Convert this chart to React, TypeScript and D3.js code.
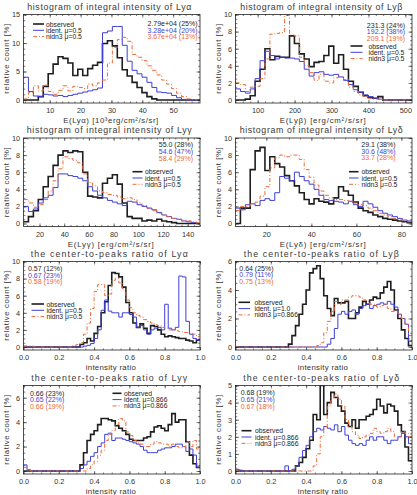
import * as d3 from "d3";
import { useEffect, useRef } from "react";

const WIDTH = 417;
const HEIGHT = 495;
const FONT = "'Liberation Sans', Arial, sans-serif";
const INK = "#222";

// observed / ident. / nidn3
const COLORS = ["#1e1e1e", "#3f3fd6", "#ec6a38"];
const WIDTHS = [1.6, 1, 1];
const DASHES = [null, null, "4,2,1,2"];

// ---- integral intensity histograms: [first edge, bin width], 36 bins ----
const intLyaBin = [1.5, 1.6];
const intLyaObs = [0, 0, 0, 0.6, 2.4, 4.6, 6.3, 7.6, 7.3, 6.5, 4.3, 5.4, 4.3, 5.5, 6.1, 6.6, 9.9, 10.4, 9.5, 7.4, 5.3, 4.2, 3.1, 2.2, 1.3, 0.6, 0.2, 0, 0, 0, 0, 0, 0, 0, 0, 0];
const intLyaIdent = [4.0, 1.5, 0.7, 0.6, 1.0, 0.9, 0.7, 0.8, 0.6, 0.8, 1.0, 1.2, 1.4, 1.6, 1.8, 2.1, 11.8, 12.1, 12.9, 12.9, 9.6, 6.8, 5.2, 4.6, 4.0, 3.1, 2.2, 1.4, 1.3, 1.2, 0.8, 0.4, 0.1, 0, 0, 0];
const intLyaNidn3 = [0.2, 1.3, 2.5, 1.6, 2.6, 1.5, 1.0, 1.7, 2.5, 1.6, 2.4, 2.2, 2.0, 2.8, 2.5, 3.0, 3.5, 6.5, 9.2, 10.6, 11.0, 10.3, 8.0, 7.5, 6.9, 6.0, 5.2, 4.4, 3.5, 2.8, 2.0, 1.2, 0.6, 0.2, 0.1, 0];

const intLybBin = [40, 13.3];
const intLybObs = [0, 0, 0.1, 0.5, 2.2, 3.6, 6.0, 4.7, 5.1, 5.0, 5.0, 7.5, 6.6, 5.4, 4.8, 3.9, 4.4, 4.5, 5.2, 6.3, 4.3, 5.3, 3.6, 2.2, 1.6, 0.9, 0.5, 0.3, 0.2, 0.4, 0, 0, 0, 0, 0, 0];
const intLybIdent = [1.3, 1.0, 0.8, 1.3, 2.5, 4.6, 5.7, 5.2, 4.8, 5.0, 4.9, 4.9, 4.8, 4.5, 3.6, 2.8, 3.2, 3.3, 3.0, 2.9, 3.0, 2.7, 2.3, 1.8, 1.2, 0.9, 0.6, 0.4, 0.2, 0.1, 0, 0, 0, 0, 0, 0];
const intLybNidn3 = [2.0, 1.8, 1.0, 1.5, 1.6, 2.5, 4.8, 7.7, 7.8, 7.9, 9.9, 7.6, 7.5, 5.0, 4.0, 3.2, 2.3, 3.0, 2.2, 2.0, 2.6, 2.7, 2.4, 1.5, 1.0, 0.6, 0.4, 0.2, 0.1, 0.1, 0, 0, 0, 0, 0, 0];

const intLygBin = [7, 4];
const intLygObs = [0.2, 0.8, 1.5, 2.8, 4.3, 5.5, 6.8, 8.0, 8.5, 8.3, 8.5, 8.4, 6.0, 3.2, 3.1, 3.0, 4.7, 5.3, 5.7, 4.6, 2.4, 0.8, 0.6, 0.6, 0.3, 0.4, 0.3, 0.5, 0.3, 0.2, 0.1, 0, 0, 0, 0, 0];
const intLygIdent = [2.0, 1.4, 1.7, 2.4, 3.0, 3.3, 4.2, 5.8, 5.8, 5.6, 5.5, 5.3, 5.0, 4.3, 3.8, 3.3, 3.0, 2.7, 2.5, 2.3, 2.1, 2.6, 2.5, 2.2, 2.0, 1.8, 1.6, 1.3, 1.0, 0.8, 0.6, 0.5, 0.3, 0.2, 0.1, 0];
const intLygNidn3 = [2.8, 2.4, 1.9, 2.2, 2.8, 3.8, 5.0, 6.4, 7.8, 7.6, 7.4, 7.1, 5.8, 4.8, 4.4, 3.8, 3.6, 3.4, 3.3, 3.1, 2.9, 3.0, 2.8, 2.4, 2.1, 1.8, 1.5, 1.2, 1.0, 0.8, 0.6, 0.5, 0.4, 0.3, 0.2, 0.1];

const intLydBin = [6.3, 2.18];
const intLydObs = [0, 1.8, 1.8, 6.3, 8.5, 8.9, 6.2, 7.8, 7.0, 6.6, 5.6, 5.0, 4.4, 3.6, 2.8, 2.3, 2.9, 2.6, 2.5, 2.3, 3.0, 4.3, 3.8, 3.3, 2.5, 1.8, 1.5, 1.3, 1.0, 0.8, 0.6, 0.5, 0.4, 0.3, 0.2, 0.1];
const intLydIdent = [1.8, 1.6, 2.2, 2.3, 2.1, 2.7, 2.9, 2.7, 3.6, 5.5, 5.3, 5.0, 6.0, 5.5, 5.0, 4.6, 4.0, 3.3, 2.8, 2.7, 2.6, 2.5, 2.3, 2.6, 2.2, 2.0, 2.6, 2.3, 1.9, 1.5, 1.2, 1.0, 0.8, 0.6, 0.4, 0.3];
const intLydNidn3 = [1.5, 2.0, 2.0, 2.3, 2.5, 3.2, 4.3, 6.5, 7.7, 8.0, 7.8, 8.0, 8.0, 7.5, 6.3, 5.4, 4.5, 3.8, 3.3, 3.0, 2.8, 2.8, 2.7, 2.6, 2.4, 2.2, 2.1, 1.8, 1.5, 1.2, 1.0, 0.8, 0.6, 0.5, 0.3, 0.2];

// ---- center-to-peaks ratio histograms: 50 bins of 0.02 ----
const ratioBin = [0, 0.02];
const ratioLyaObs = [
  0, 0, 0, 0, 0, 0, 0, 0, 0, 0,
  0, 0, 0, 0, 0, 0, 0.3, 0.5, 1.0, 0.7,
  1.6, 2.4, 4.0, 5.3, 7.2, 8.7, 8.6, 8.2, 7.0, 5.2,
  4.0, 2.8, 2.3, 2.7, 2.2, 1.6, 2.5, 2.4, 2.0, 1.5,
  1.2, 1.3, 1.2, 1.1, 1.0, 1.0, 0.8, 0.7, 0.5, 0.8,
];
const ratioLyaIdent = [
  0.1, 0, 0, 0, 0, 0, 0, 0, 0, 0,
  0, 0, 0, 0, 0, 0, 0, 0.1, 0.2, 0.4,
  1.0, 2.0, 4.3, 5.5, 4.2, 4.0, 4.0, 3.5, 4.0, 4.0,
  3.8, 3.5, 2.3, 2.5, 2.0, 1.5, 2.0, 2.2, 2.3, 2.0,
  5.0, 2.2, 2.0, 2.3, 8.3, 8.2, 3.0, 1.5, 1.0, 0.8,
];
const ratioLyaNidn3 = [
  0.1, 0.1, 0.1, 0, 0, 0, 0, 0, 0, 0,
  0, 0, 0, 0, 0.2, 0.3, 0.5, 1.5, 2.8, 4.5,
  6.5, 7.3, 7.3, 6.0, 6.2, 7.8, 8.0, 7.5, 6.8, 5.5,
  4.6, 4.0, 3.7, 3.5, 3.2, 3.0, 2.8, 2.6, 2.5, 2.3,
  2.2, 2.0, 2.0, 1.9, 1.8, 1.7, 1.7, 1.6, 1.5, 1.2,
];

const ratioLybObs = [
  0, 0, 0, 0, 0, 0, 0, 0, 0, 0,
  0, 0, 0, 0, 0, 0.2, 0.8, 1.5, 2.3, 3.0,
  4.0, 5.2, 5.5, 5.7, 4.8, 3.6, 2.7, 2.2, 3.4, 3.1,
  3.1, 3.2, 2.0, 2.0, 2.4, 2.8, 3.2, 3.0, 3.3, 3.5,
  3.4, 3.8, 4.2, 4.6, 4.0, 2.6, 2.0, 1.2, 0.6, 0.1,
];
const ratioLybIdent = [
  0, 0, 0, 0, 0, 0, 0, 0, 0, 0,
  0, 0, 0, 0, 0, 0, 0, 0, 0, 0,
  0, 0, 0, 0, 0, 0, 0.2, 0.6, 1.3, 2.3,
  2.5, 2.3, 2.5, 2.6, 2.3, 2.7, 2.9, 3.0, 2.7, 2.9,
  3.0, 3.1, 3.0, 3.2, 3.0, 2.8, 2.3, 2.0, 1.6, 0.4,
];
const ratioLybNidn3 = [
  0, 0, 0, 0, 0, 0, 0, 0, 0, 0,
  0, 0, 0, 0, 0, 0, 0, 0, 0, 0,
  0, 0, 0, 0.1, 0.3, 1.0, 1.8, 2.5, 3.2, 3.0,
  3.3, 3.3, 3.5, 3.6, 3.6, 3.5, 3.3, 3.2, 3.0, 3.0,
  2.8, 2.9, 3.0, 2.7, 2.5, 2.6, 2.3, 2.0, 1.6, 0.8,
];

const ratioLygObs = [
  0, 0, 0, 0, 0, 0, 0, 0, 0, 0,
  0, 0, 0, 0, 0, 0, 0.5, 1.5, 2.5, 3.0,
  3.3, 3.8, 4.3, 4.3, 4.2, 4.1, 3.7, 3.5, 3.3, 3.0,
  2.6, 2.5, 2.5, 2.5, 2.7, 2.8, 3.2, 3.6, 3.7, 3.5,
  3.3, 3.8, 4.7, 4.0, 4.2, 4.2, 2.4, 1.3, 0.6, 0.3,
];
const ratioLygIdent = [
  0.5, 0.1, 0, 0, 0, 0, 0, 0, 0, 0,
  0, 0, 0, 0, 0, 0, 0.2, 0.5, 0.8, 1.2,
  1.5, 2.0, 2.3, 3.0, 3.1, 2.5, 2.7, 2.7, 2.6, 2.5,
  2.4, 2.3, 2.2, 2.0, 1.7, 1.5, 1.5, 1.5, 1.7, 1.8,
  1.9, 1.9, 2.0, 2.2, 2.2, 2.0, 1.6, 1.8, 1.3, 0.3,
];
const ratioLygNidn3 = [
  0.3, 0.1, 0, 0, 0, 0, 0, 0, 0, 0,
  0, 0, 0, 0, 0, 0, 0, 0, 0.2, 0.5,
  0.8, 1.3, 1.7, 2.5, 3.0, 3.3, 3.8, 4.3, 4.1, 3.2,
  2.9, 2.5, 2.3, 2.2, 2.0, 2.0, 2.2, 2.4, 2.3, 2.2,
  2.2, 2.0, 2.2, 2.0, 1.9, 2.0, 2.4, 2.0, 2.5, 1.8,
];

const ratioLydObs = [
  0, 0, 0, 0, 0, 0, 0, 0, 0, 0,
  0, 0, 0, 0, 0, 0, 0, 0.3, 0.5, 0.8,
  1.3, 1.8, 3.3, 3.0, 5.0, 3.3, 4.0, 4.6, 4.3, 3.8,
  3.5, 2.8, 2.6, 3.0, 2.5, 3.0, 3.0, 3.2, 3.3, 3.6,
  4.2, 3.8, 3.4, 3.9, 3.8, 3.5, 2.7, 2.3, 1.4, 0.6,
];
const ratioLydIdent = [
  0.1, 0.05, 0, 0, 0, 0, 0, 0, 0, 0,
  0, 0, 0, 0, 0.3, 0, 0.1, 0.3, 0.8, 1.2,
  1.5, 2.0, 2.3, 2.5, 2.4, 2.6, 2.5, 2.4, 2.7, 2.3,
  2.6, 2.1, 1.8, 1.6, 1.5, 1.6, 1.5, 1.8, 2.0, 1.8,
  2.0, 2.0, 1.8, 1.6, 1.8, 1.8, 2.0, 2.2, 2.0, 1.6,
];
const ratioLydNidn3 = [
  0, 0, 0, 0, 0, 0, 0, 0, 0, 0,
  0, 0, 0, 0, 0, 0, 0, 0, 0, 0,
  0, 0, 0.3, 1.0, 2.0, 2.6, 3.8, 4.3, 4.5, 4.2,
  3.8, 3.0, 2.6, 2.3, 2.1, 1.9, 2.0, 2.1, 2.2, 2.5,
  2.3, 2.2, 2.3, 2.5, 2.3, 2.0, 2.0, 2.3, 2.2, 2.0,
];

// mean (spread) printed in each panel, observed / ident. / nidn3
const statsIntLya = ["2.79e+04 (25%)", "3.28e+04 (20%)", "3.67e+04 (13%)"];
const statsIntLyb = ["231.3 (24%)", "192.2 (38%)", "209.1 (19%)"];
const statsIntLyg = ["55.0 (28%)", "54.6 (47%)", "58.4 (29%)"];
const statsIntLyd = ["29.1 (38%)", "30.6 (48%)", "33.7 (28%)"];
const statsRatioLya = ["0.57 (12%)", "0.67 (23%)", "0.58 (19%)"];
const statsRatioLyb = ["0.64 (25%)", "0.79 (11%)", "0.75 (13%)"];
const statsRatioLyg = ["0.66 (23%)", "0.65 (22%)", "0.66 (19%)"];
const statsRatioLyd = ["0.68 (19%)", "0.65 (21%)", "0.67 (18%)"];

const legendMu05 = ["observed", "ident. μ=0.5", "nidn3 μ=0.5"];
const legendLyb = ["observed", "ident. μ=1.0", "nidn3 μ=0.866"];
const legendMu866 = ["observed", "ident. μ=0.866", "nidn3 μ=0.866"];

// plot boxes
const COL_X = [23.5, 235.5];
const ROW_Y = [14.5, 138, 261.5, 385.5];
const BOX_W = 176.5;
const BOX_H = 88.5;

interface Panel {
  col: number;
  row: number;
  title: string;
  titleLen: number;
  xTitle: string;
  xTitleLen: number;
  xDomain: [number, number];
  xMajor: number;
  xMinor: number;
  xFmt: (d: number) => string;
  yMax: number;
  yMajor: number;
  yMinor: number;
  bin: number[];
  series: number[][];
  stats: string[];
  statsAt: [number, number, string];
  legend: string[];
  legendAt: [number, number, number, number];
}

const fmtInt = d3.format("d");
const fmtRatio = d3.format(".1f");

const panels: Panel[] = [
  {
    col: 0, row: 0, title: "histogram of integral intensity of Lyα", titleLen: 164,
    xTitle: "E(Lyα) [10³erg/cm²/s/sr]", xTitleLen: 95,
    xDomain: [1.5, 58.7], xMajor: 10, xMinor: 2, xFmt: fmtInt,
    yMax: 15, yMajor: 5, yMinor: 1, bin: intLyaBin,
    series: [intLyaObs, intLyaIdent, intLyaNidn3],
    stats: statsIntLya, statsAt: [174, 8.8, "end"],
    legend: legendMu05, legendAt: [9.5, 20.5, 22.5, 9.5],
  },
  {
    col: 1, row: 0, title: "histogram of integral intensity of Lyβ", titleLen: 162,
    xTitle: "E(Lyβ) [erg/cm²/s/sr]", xTitleLen: 86,
    xDomain: [40, 518], xMajor: 100, xMinor: 20, xFmt: fmtInt,
    yMax: 10, yMajor: 2, yMinor: 0.5, bin: intLybBin,
    series: [intLybObs, intLybIdent, intLybNidn3],
    stats: statsIntLyb, statsAt: [169.5, 10.5, "end"],
    legend: legendMu05, legendAt: [115, 127, 133, 31.5],
  },
  {
    col: 0, row: 1, title: "histogram of integral intensity of Lyγ", titleLen: 165,
    xTitle: "E(Lyγ) [erg/cm²/s/sr]", xTitleLen: 86,
    xDomain: [7, 150], xMajor: 20, xMinor: 5, xFmt: fmtInt,
    yMax: 10, yMajor: 2, yMinor: 0.5, bin: intLygBin,
    series: [intLygObs, intLygIdent, intLygNidn3],
    stats: statsIntLyg, statsAt: [169.5, 6.5, "end"],
    legend: legendMu05, legendAt: [109, 119, 121.5, 33.7],
  },
  {
    col: 1, row: 1, title: "histogram of integral intensity of Lyδ", titleLen: 163,
    xTitle: "E(Lyδ) [erg/cm²/s/sr]", xTitleLen: 86,
    xDomain: [6.3, 84.7], xMajor: 20, xMinor: 5, xFmt: fmtInt,
    yMax: 10, yMajor: 2, yMinor: 0.5, bin: intLydBin,
    series: [intLydObs, intLydIdent, intLydNidn3],
    stats: statsIntLyd, statsAt: [160, 6.2, "end"],
    legend: legendMu05, legendAt: [113.5, 123, 126, 33.7],
  },
  {
    col: 0, row: 2, title: "the center-to-peaks ratio of Lyα", titleLen: 157,
    xTitle: "intensity ratio", xTitleLen: 50,
    xDomain: [0, 1], xMajor: 0.2, xMinor: 0.05, xFmt: fmtRatio,
    yMax: 10, yMajor: 2, yMinor: 0.5, bin: ratioBin,
    series: [ratioLyaObs, ratioLyaIdent, ratioLyaNidn3],
    stats: statsRatioLya, statsAt: [4.5, 6.8, "start"],
    legend: legendMu05, legendAt: [8, 20.5, 23, 42.5],
  },
  {
    col: 1, row: 2, title: "the center-to-peaks ratio of Lyβ", titleLen: 155,
    xTitle: "intensity ratio", xTitleLen: 50,
    xDomain: [0, 1], xMajor: 0.2, xMinor: 0.05, xFmt: fmtRatio,
    yMax: 6, yMajor: 2, yMinor: 0.5, bin: ratioBin,
    series: [ratioLybObs, ratioLybIdent, ratioLybNidn3],
    stats: statsRatioLyb, statsAt: [3.8, 6.5, "start"],
    legend: legendLyb, legendAt: [3, 14.5, 19, 40.8],
  },
  {
    col: 0, row: 3, title: "the center-to-peaks ratio of Lyγ", titleLen: 156,
    xTitle: "intensity ratio", xTitleLen: 50,
    xDomain: [0, 1], xMajor: 0.2, xMinor: 0.05, xFmt: fmtRatio,
    yMax: 7, yMajor: 2, yMinor: 0.5, bin: ratioBin,
    series: [ratioLygObs, ratioLygIdent, ratioLygNidn3],
    stats: statsRatioLyg, statsAt: [6.5, 7.6, "start"],
    legend: legendMu866, legendAt: [89, 98, 100.5, 7.8],
  },
  {
    col: 1, row: 3, title: "the center-to-peaks ratio of Lyδ", titleLen: 156,
    xTitle: "intensity ratio", xTitleLen: 50,
    xDomain: [0, 1], xMajor: 0.2, xMinor: 0.05, xFmt: fmtRatio,
    yMax: 5, yMajor: 1, yMinor: 0.2, bin: ratioBin,
    series: [ratioLydObs, ratioLydIdent, ratioLydNidn3],
    stats: statsRatioLyd, statsAt: [5.2, 7.2, "start"],
    legend: legendMu866, legendAt: [6, 16, 19.5, 45.2],
  },
];

// tick positions that fall inside [d0, d1]
const ticksIn = (d0: number, d1: number, step: number) =>
  d3.range(Math.ceil(d0 / step - 1e-6), Math.floor(d1 / step + 1e-6) + 1).map((i) => i * step);

export default function App() {
  const ref = useRef<SVGSVGElement>(null);

  useEffect(() => {
    if (!ref.current) return;
    document.body.style.margin = "0";

    const svg = d3.select(ref.current);
    svg.selectAll("*").remove();
    svg.append("rect").attr("width", WIDTH).attr("height", HEIGHT).attr("fill", "#fff");
    const defs = svg.append("defs");

    const axisStyle = (sel: any) => {
      sel.attr("font-family", null).attr("font-size", null);
      sel.select(".domain").remove();
      sel.selectAll(".tick line").attr("stroke", INK).attr("stroke-width", 0.6);
      sel.selectAll(".tick text")
        .attr("fill", "#333")
        .attr("font-size", 7.3)
        .attr("font-family", FONT);
    };

    panels.forEach((p, k) => {
      const left = COL_X[p.col];
      const right = left + BOX_W;
      const top = ROW_Y[p.row];
      const bottom = top + BOX_H;

      const x = d3.scaleLinear().domain(p.xDomain).range([left, right]);
      const y = d3.scaleLinear().domain([-0.035 * p.yMax, p.yMax]).range([bottom, top]);

      const g = svg.append("g");
      const clipId = `clip-${k}`;
      defs.append("clipPath").attr("id", clipId)
        .append("rect")
        .attr("x", left).attr("y", top)
        .attr("width", BOX_W).attr("height", BOX_H);

      // histograms drawn as steps over each bin
      const line = d3.line<[number, number]>()
        .x((d) => x(d[0]))
        .y((d) => y(d[1]))
        .curve(d3.curveStepAfter);

      const plot = g.append("g").attr("clip-path", `url(#${clipId})`);
      p.series.forEach((vals, s) => {
        const pts: [number, number][] = vals.map((v, i) => [p.bin[0] + i * p.bin[1], v]);
        pts.push([p.bin[0] + vals.length * p.bin[1], vals[vals.length - 1]]);
        const path = plot.append("path")
          .attr("d", line(pts))
          .attr("fill", "none")
          .attr("stroke", COLORS[s])
          .attr("stroke-width", WIDTHS[s])
          .attr("stroke-linejoin", "miter");
        if (DASHES[s]) path.attr("stroke-dasharray", DASHES[s]);
      });

      // axes: ticks on all four sides, pointing inward
      const xMaj = ticksIn(p.xDomain[0], p.xDomain[1], p.xMajor);
      const xMin = ticksIn(p.xDomain[0], p.xDomain[1], p.xMinor);
      const yMaj = ticksIn(0, p.yMax, p.yMajor);
      const yMin = ticksIn(0, p.yMax, p.yMinor);
      const blank = () => "";

      g.append("g").attr("transform", `translate(0,${bottom})`)
        .call(d3.axisBottom(x).tickValues(xMaj).tickSize(-3).tickPadding(5)
          .tickFormat((d) => p.xFmt(+d)))
        .call(axisStyle);
      g.append("g").attr("transform", `translate(0,${bottom})`)
        .call(d3.axisBottom(x).tickValues(xMin).tickSize(-1.5).tickFormat(blank))
        .call(axisStyle);
      g.append("g").attr("transform", `translate(0,${top})`)
        .call(d3.axisTop(x).tickValues(xMaj).tickSize(-3).tickFormat(blank))
        .call(axisStyle);
      g.append("g").attr("transform", `translate(0,${top})`)
        .call(d3.axisTop(x).tickValues(xMin).tickSize(-1.5).tickFormat(blank))
        .call(axisStyle);

      g.append("g").attr("transform", `translate(${left},0)`)
        .call(d3.axisLeft(y).tickValues(yMaj).tickSize(-3.5).tickPadding(3.5)
          .tickFormat((d) => fmtInt(+d)))
        .call(axisStyle);
      g.append("g").attr("transform", `translate(${left},0)`)
        .call(d3.axisLeft(y).tickValues(yMin).tickSize(-1.8).tickFormat(blank))
        .call(axisStyle);
      g.append("g").attr("transform", `translate(${right},0)`)
        .call(d3.axisRight(y).tickValues(yMaj).tickSize(-3.5).tickFormat(blank))
        .call(axisStyle);
      g.append("g").attr("transform", `translate(${right},0)`)
        .call(d3.axisRight(y).tickValues(yMin).tickSize(-1.8).tickFormat(blank))
        .call(axisStyle);

      g.append("rect")
        .attr("x", left).attr("y", top)
        .attr("width", BOX_W).attr("height", BOX_H)
        .attr("fill", "none")
        .attr("stroke", INK)
        .attr("stroke-width", 0.8);

      // titles
      const cx = (left + right) / 2;
      g.append("text")
        .attr("x", cx - 2.5).attr("y", top - 5)
        .attr("text-anchor", "middle")
        .attr("font-family", FONT).attr("font-size", 8.8)
        .attr("fill", "#3a3a3a")
        .attr("textLength", p.titleLen).attr("lengthAdjust", "spacing")
        .text(p.title);

      g.append("text")
        .attr("x", cx - 1).attr("y", bottom + 20)
        .attr("text-anchor", "middle")
        .attr("font-family", FONT).attr("font-size", 7.8)
        .attr("fill", "#333")
        .attr("textLength", p.xTitleLen).attr("lengthAdjust", "spacing")
        .text(p.xTitle);

      const yTitleX = left - 17;
      const yTitleY = (top + bottom) / 2;
      g.append("text")
        .attr("transform", `translate(${yTitleX},${yTitleY}) rotate(-90)`)
        .attr("text-anchor", "middle")
        .attr("dominant-baseline", "central")
        .attr("font-family", FONT).attr("font-size", 7.8)
        .attr("fill", "#333")
        .attr("textLength", 70).attr("lengthAdjust", "spacing")
        .text("relative count [%]");

      // mean values of the three histograms
      const [sx, sy, anchor] = p.statsAt;
      p.stats.forEach((t, s) => {
        g.append("text")
          .attr("x", left + sx).attr("y", top + sy + s * 6.8)
          .attr("text-anchor", anchor)
          .attr("dominant-baseline", "central")
          .attr("font-family", FONT).attr("font-size", 7)
          .attr("fill", COLORS[s])
          .text(t);
      });

      // legend
      const [lx0, lx1, tx, ly] = p.legendAt;
      p.legend.forEach((t, s) => {
        const yy = top + ly + s * 6.3;
        const seg = g.append("line")
          .attr("x1", left + lx0).attr("x2", left + lx1)
          .attr("y1", yy).attr("y2", yy)
          .attr("stroke", COLORS[s])
          .attr("stroke-width", WIDTHS[s]);
        if (DASHES[s]) seg.attr("stroke-dasharray", DASHES[s]);
        g.append("text")
          .attr("x", left + tx).attr("y", yy)
          .attr("dominant-baseline", "central")
          .attr("font-family", FONT).attr("font-size", 6.8)
          .attr("fill", INK)
          .text(t);
      });
    });
  }, []);

  return (
    <svg
      ref={ref}
      width={WIDTH}
      height={HEIGHT}
      viewBox={`0 0 ${WIDTH} ${HEIGHT}`}
      style={{ display: "block" }}
    />
  );
}
